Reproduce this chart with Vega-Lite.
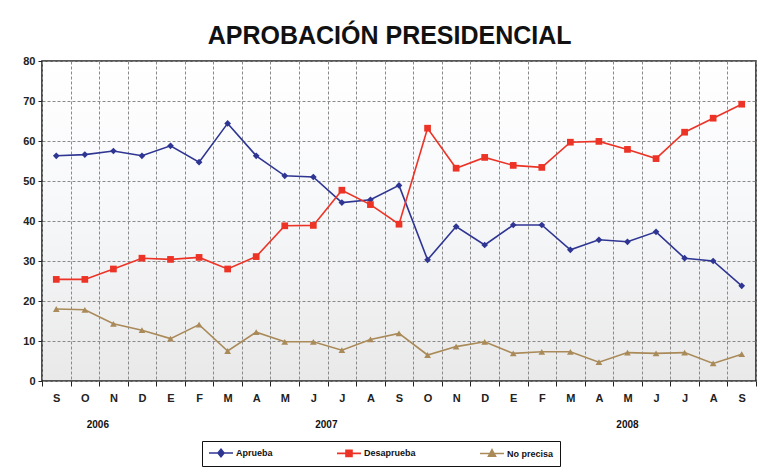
{
  "$schema": "https://vega.github.io/schema/vega-lite/v6.json",
  "width": 714,
  "height": 320,
  "autosize": {"type": "none"},
  "padding": {"left": 42, "top": 61, "right": 7, "bottom": 88},
  "background": "white",
  "title": {
    "text": "APROBACIÓN PRESIDENCIAL",
    "font": "Liberation Sans",
    "fontSize": 25,
    "fontWeight": "bold",
    "color": "#111111",
    "anchor": "middle",
    "frame": "bounds",
    "offset": 6
  },
  "config": {
    "font": "Liberation Sans",
    "view": {
      "stroke": "#222222",
      "strokeWidth": 1.6,
      "fill": {
        "gradient": "linear",
        "x1": 0, "y1": 0, "x2": 0, "y2": 1,
        "stops": [
          {"offset": 0, "color": "#ffffff"},
          {"offset": 0.45, "color": "#f7f8fa"},
          {"offset": 1, "color": "#e9e9e9"}
        ]
      }
    },
    "axis": {
      "domain": false,
      "gridColor": "#8a8a8a",
      "gridDash": [3, 2],
      "gridWidth": 1,
      "tickColor": "#222222",
      "labelFont": "Liberation Sans",
      "labelFontWeight": "bold",
      "labelColor": "#222222",
      "title": null
    },
    "axisY": {"tickCount": 8, "labelOverlap": false}
  },
  "resolve": {"scale": {"color": "independent"}},
  "data": {
    "values": [
      {"k": "2006-09", "Aprueba": 56.3, "Desaprueba": 25.4, "No precisa": 18.0},
      {"k": "2006-10", "Aprueba": 56.6, "Desaprueba": 25.4, "No precisa": 17.8},
      {"k": "2006-11", "Aprueba": 57.5, "Desaprueba": 28.0, "No precisa": 14.3},
      {"k": "2006-12", "Aprueba": 56.3, "Desaprueba": 30.7, "No precisa": 12.7},
      {"k": "2007-01", "Aprueba": 58.8, "Desaprueba": 30.4, "No precisa": 10.6},
      {"k": "2007-02", "Aprueba": 54.7, "Desaprueba": 30.9, "No precisa": 14.1},
      {"k": "2007-03", "Aprueba": 64.4, "Desaprueba": 28.0, "No precisa": 7.5},
      {"k": "2007-04", "Aprueba": 56.3, "Desaprueba": 31.1, "No precisa": 12.2},
      {"k": "2007-05", "Aprueba": 51.3, "Desaprueba": 38.8, "No precisa": 9.8},
      {"k": "2007-06", "Aprueba": 51.0, "Desaprueba": 38.9, "No precisa": 9.8},
      {"k": "2007-07", "Aprueba": 44.6, "Desaprueba": 47.7, "No precisa": 7.7},
      {"k": "2007-08", "Aprueba": 45.3, "Desaprueba": 44.1, "No precisa": 10.4},
      {"k": "2007-09", "Aprueba": 48.9, "Desaprueba": 39.2, "No precisa": 11.9},
      {"k": "2007-10", "Aprueba": 30.3, "Desaprueba": 63.2, "No precisa": 6.5},
      {"k": "2007-11", "Aprueba": 38.6, "Desaprueba": 53.2, "No precisa": 8.6},
      {"k": "2007-12", "Aprueba": 34.0, "Desaprueba": 55.9, "No precisa": 9.8},
      {"k": "2008-01", "Aprueba": 39.0, "Desaprueba": 53.9, "No precisa": 6.9},
      {"k": "2008-02", "Aprueba": 39.0, "Desaprueba": 53.4, "No precisa": 7.3},
      {"k": "2008-03", "Aprueba": 32.8, "Desaprueba": 59.7, "No precisa": 7.3},
      {"k": "2008-04", "Aprueba": 35.3, "Desaprueba": 59.9, "No precisa": 4.7},
      {"k": "2008-05", "Aprueba": 34.8, "Desaprueba": 57.9, "No precisa": 7.1},
      {"k": "2008-06", "Aprueba": 37.3, "Desaprueba": 55.6, "No precisa": 6.9},
      {"k": "2008-07", "Aprueba": 30.7, "Desaprueba": 62.2, "No precisa": 7.1},
      {"k": "2008-08", "Aprueba": 30.0, "Desaprueba": 65.7, "No precisa": 4.4},
      {"k": "2008-09", "Aprueba": 23.8, "Desaprueba": 69.2, "No precisa": 6.7}
    ]
  },
  "layer": [
    {
      "transform": [{"fold": ["Aprueba", "Desaprueba", "No precisa"], "as": ["serie", "v"]}],
      "mark": {"type": "line", "strokeWidth": 1.6},
      "encoding": {
        "x": {
          "field": "k", "type": "ordinal", "bandPosition": 0.5,
          "scale": {"type": "band", "paddingInner": 0, "paddingOuter": 0},
          "axis": {
            "labelAngle": 0,
            "grid": true,
            "tickBand": "extent",
            "tickSize": 5,
            "labelPadding": 6,
            "labelFontSize": 11,
            "labelExpr": "isString(datum.value) ? ['E','F','M','A','M','J','J','A','S','O','N','D'][toNumber(substring(datum.value,5,7))-1] : ''"
          }
        },
        "y": {
          "field": "v", "type": "quantitative",
          "scale": {"domain": [0, 80], "nice": false},
          "axis": {"tickCount": 8, "labelOverlap": false, "tickSize": 4, "labelPadding": 3, "labelFontSize": 11}
        },
        "color": {
          "field": "serie", "type": "nominal",
          "scale": {"domain": ["Aprueba", "Desaprueba", "No precisa"], "range": ["#2e3592", "#ec3326", "#a98a58"]},
          "legend": {
            "orient": "none",
            "legendX": 160,
            "legendY": 380,
            "direction": "horizontal",
            "columns": 3,
            "title": null,
            "padding": 6,
            "strokeColor": "#111111",
            "fillColor": "white",
            "columnPadding": 60,
            "symbolSize": 100,
            "symbolType": "M-1,0H3.8M0.8,-0.6H2V0.6H0.8Z",
            "symbolStrokeWidth": 1.6,
            "labelFontSize": 9,
            "labelFontWeight": "bold",
            "labelColor": "#111111",
            "labelOffset": 16,
            "encode": {
              "symbols": {
                "update": {
                  "shape": {"signal": "datum.value === 'Aprueba' ? 'M-1,0H3.8M1.4,-0.75L2,0L1.4,0.75L0.8,0Z' : datum.value === 'Desaprueba' ? 'M-1,0H3.8M0.8,-0.6H2V0.6H0.8Z' : 'M-1,0H3.8M1.4,-0.75L2.1,0.55H0.7Z'"},
                  "fill": {"signal": "datum.value === 'Aprueba' ? '#2e3592' : datum.value === 'Desaprueba' ? '#ec3326' : '#a98a58'"},
                  "stroke": {"signal": "datum.value === 'Aprueba' ? '#2e3592' : datum.value === 'Desaprueba' ? '#ec3326' : '#a98a58'"},
                  "strokeWidth": {"value": 1.6}
                }
              }
            }
          }
        }
      }
    },
    {
      "transform": [{"fold": ["Aprueba", "Desaprueba", "No precisa"], "as": ["serie2", "v"]}],
      "mark": {"type": "point", "filled": true, "opacity": 1, "size": 45},
      "encoding": {
        "x": {"field": "k", "type": "ordinal", "bandPosition": 0.5},
        "y": {
          "field": "v", "type": "quantitative",
          "axis": {"tickCount": 8, "labelOverlap": false, "tickSize": 4, "labelPadding": 3, "labelFontSize": 11}
        },
        "color": {
          "field": "serie2", "type": "nominal",
          "scale": {"domain": ["Aprueba", "Desaprueba", "No precisa"], "range": ["#2e3592", "#ec3326", "#a98a58"]},
          "legend": null
        },
        "shape": {
          "field": "serie2", "type": "nominal",
          "scale": {"domain": ["Aprueba", "Desaprueba", "No precisa"], "range": ["diamond", "square", "triangle-up"]},
          "legend": null
        }
      }
    },
    {
      "data": {"values": [{"k": "2006-10", "year": "2006"}, {"k": "2007-06", "year": "2007"}]},
      "mark": {"type": "text", "dx": 13, "fontSize": 10, "fontWeight": "bold", "color": "#111111"},
      "encoding": {
        "x": {"field": "k", "type": "ordinal", "bandPosition": 0.5},
        "y": {
          "datum": -11, "type": "quantitative",
          "axis": {"tickCount": 8, "labelOverlap": false, "tickSize": 4, "labelPadding": 3, "labelFontSize": 11}
        },
        "text": {"field": "year"}
      }
    },
    {
      "data": {"values": [{"k": "2008-05", "year": "2008"}]},
      "mark": {"type": "text", "dx": 0, "fontSize": 10, "fontWeight": "bold", "color": "#111111"},
      "encoding": {
        "x": {"field": "k", "type": "ordinal", "bandPosition": 0.5},
        "y": {
          "datum": -11, "type": "quantitative",
          "axis": {"tickCount": 8, "labelOverlap": false, "tickSize": 4, "labelPadding": 3, "labelFontSize": 11}
        },
        "text": {"field": "year"}
      }
    }
  ]
}
